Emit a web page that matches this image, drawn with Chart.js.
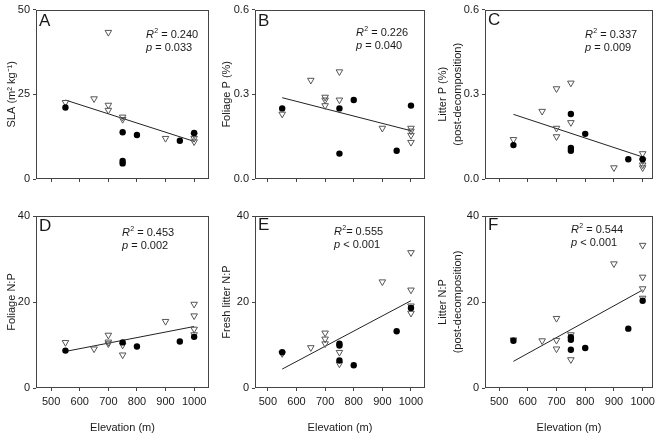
<!DOCTYPE html>
<html>
<head>
<meta charset="utf-8">
<script src="https://cdn.jsdelivr.net/npm/chart.js@4.4.0/dist/chart.umd.min.js"></script>
<style>
  body { margin: 0; background: #fff; }
  #wrap { position: relative; width: 661px; height: 436px; overflow: hidden; }
  #wrap canvas { position: absolute; }
</style>
</head>
<body>
<div id="wrap">
  <canvas id="pA"></canvas>
  <canvas id="pB"></canvas>
  <canvas id="pC"></canvas>
  <canvas id="pD"></canvas>
  <canvas id="pE"></canvas>
  <canvas id="pF"></canvas>
</div>
<script>
// Elevation ticks and fitted-line ends
const xTicks = [500, 600, 700, 800, 900, 1000];
const fitX = [550, 1000];

// A: SLA (m2 kg-1)
const slaDotX = [550, 750, 750, 750, 800, 950, 1000];
const slaDotY = [21.1, 13.8, 5.3, 4.6, 13.0, 11.3, 13.6];
const slaTriX = [550, 650, 700, 700, 700, 750, 750, 900, 1000, 1000, 1000];
const slaTriY = [22.6, 23.7, 43.3, 21.8, 20.3, 18.3, 17.6, 12.0, 13.0, 12.0, 11.0];
const slaFit = [23.3, 11.1];

// B: Foliage P (%)
const folPDotX = [550, 750, 750, 800, 950, 1000];
const folPDotY = [0.25, 0.25, 0.09, 0.28, 0.10, 0.26];
const folPTriX = [550, 650, 700, 700, 700, 750, 750, 900, 1000, 1000, 1000, 1000];
const folPTriY = [0.23, 0.35, 0.29, 0.28, 0.26, 0.38, 0.28, 0.18, 0.18, 0.17, 0.155, 0.13];
const folPFit = [0.288, 0.171];

// C: Litter P (%) post-decomposition
const litPDotX = [550, 750, 750, 750, 800, 950, 1000];
const litPDotY = [0.12, 0.23, 0.11, 0.10, 0.16, 0.07, 0.07];
const litPTriX = [550, 650, 700, 700, 700, 750, 750, 900, 1000, 1000, 1000, 1000];
const litPTriY = [0.14, 0.24, 0.32, 0.18, 0.15, 0.34, 0.20, 0.04, 0.09, 0.065, 0.05, 0.04];
const litPFit = [0.229, 0.078];

// D: Foliage N:P
const folNPDotX = [550, 750, 800, 950, 1000];
const folNPDotY = [8.7, 10.6, 9.65, 10.8, 11.9];
const folNPTriX = [550, 650, 700, 700, 700, 750, 750, 900, 1000, 1000, 1000, 1000];
const folNPTriY = [10.6, 9.1, 12.3, 10.7, 10.3, 10.0, 7.7, 15.5, 19.5, 16.8, 13.7, 12.4];
const folNPFit = [8.5, 14.3];

// E: Fresh litter N:P
const freshNPDotX = [550, 750, 750, 750, 800, 950, 1000];
const freshNPDotY = [8.3, 10.3, 9.9, 6.4, 5.3, 13.2, 18.6];
const freshNPTriX = [550, 650, 700, 700, 700, 750, 750, 900, 1000, 1000, 1000, 1000];
const freshNPTriY = [8.0, 9.4, 12.8, 11.4, 10.3, 8.3, 5.6, 24.7, 31.5, 22.8, 19.1, 17.4];
const freshNPFit = [4.4, 20.3];

// F: Litter N:P post-decomposition
const litNPDotX = [550, 750, 750, 750, 800, 950, 1000];
const litNPDotY = [11.0, 11.8, 11.2, 8.9, 9.3, 13.8, 20.3];
const litNPTriX = [550, 650, 700, 700, 700, 750, 750, 900, 1000, 1000, 1000, 1000];
const litNPTriY = [11.2, 11.0, 16.2, 11.1, 9.1, 12.4, 6.6, 28.9, 33.2, 25.8, 23.1, 20.9];
const litNPFit = [6.2, 22.8];

// y ticks
const slaTicks = [0, 25, 50];
const pTicks = [0, 0.3, 0.6];
const npTicks = [0, 20, 40];

// panel text
const panelLetters = ['A', 'B', 'C', 'D', 'E', 'F'];
const r2Text = [' = 0.240', ' = 0.226', ' = 0.337', ' = 0.453', '= 0.555', ' = 0.544'];
const pText = [' = 0.033', ' = 0.040', ' = 0.009', ' = 0.002', ' < 0.001', ' < 0.001'];

const fontFamily = 'Arial, "Liberation Sans", sans-serif';
const frameColor = '#444';
const textColor = '#1a1a1a';

function toPts(xs, ys) {
  return xs.map((x, i) => ({ x: x, y: ys[i] }));
}

// frame round the plot box + letter + R2/p lines
const panelDecor = {
  id: 'panelDecor',
  afterDatasetsDraw(chart, args, opts) {
    const ctx = chart.ctx;
    const a = chart.chartArea;
    ctx.save();
    ctx.strokeStyle = frameColor;
    ctx.lineWidth = 1;
    const x0 = Math.round(a.left) + 0.5, y0 = Math.round(a.top) + 0.5;
    const x1 = Math.round(a.right) - 0.5, y1 = Math.round(a.bottom) - 0.5;
    ctx.strokeRect(x0, y0, x1 - x0, y1 - y0);

    ctx.fillStyle = textColor;
    ctx.textBaseline = 'middle';
    ctx.textAlign = 'left';
    ctx.font = '17px ' + fontFamily;
    ctx.fillText(opts.letter, a.left + 3, a.top + opts.ly);

    let x = a.left + opts.tx;
    let y = a.top + opts.ty;
    ctx.font = 'italic 11px ' + fontFamily;
    ctx.fillText('R', x, y);
    x += ctx.measureText('R').width;
    ctx.font = '7px ' + fontFamily;
    ctx.fillText('2', x + 0.3, y - 4);
    x += ctx.measureText('2').width + 0.3;
    ctx.font = '11px ' + fontFamily;
    ctx.fillText(opts.r2, x, y);

    x = a.left + opts.tx;
    y += 13;
    ctx.font = 'italic 11px ' + fontFamily;
    ctx.fillText('p', x, y);
    x += ctx.measureText('p').width;
    ctx.font = '11px ' + fontFamily;
    ctx.fillText(opts.p, x, y);
    ctx.restore();
  }
};

function makePanel(cfg) {
  const canvas = document.getElementById(cfg.id);
  canvas.width = cfg.w;
  canvas.height = cfg.h;
  canvas.style.left = cfg.left + 'px';
  canvas.style.top = cfg.top + 'px';

  const tickFont = { family: fontFamily, size: 11 };
  const titleFont = { family: fontFamily, size: 11, lineHeight: '15px' };

  new Chart(canvas, {
    type: 'scatter',
    data: {
      datasets: [
        {
          data: toPts(cfg.dotX, cfg.dotY),
          pointStyle: 'circle',
          pointRadius: 3.2,
          backgroundColor: '#000',
          borderColor: '#000',
          borderWidth: 0,
          order: 1
        },
        {
          data: toPts(cfg.triX, cfg.triY),
          pointStyle: 'triangle',
          rotation: 180,
          pointRadius: 3.8,
          backgroundColor: 'rgba(255,255,255,0)',
          borderColor: '#555',
          borderWidth: 1,
          order: 2
        },
        {
          data: toPts(fitX, cfg.fit),
          showLine: true,
          pointRadius: 0,
          borderColor: '#222',
          borderWidth: 1,
          order: 3
        }
      ]
    },
    options: {
      responsive: false,
      animation: false,
      devicePixelRatio: 1,
      layout: { padding: { top: cfg.padT, right: cfg.padR, left: 0, bottom: 0 } },
      plugins: {
        legend: { display: false },
        tooltip: { enabled: false },
        panelDecor: cfg.decor
      },
      scales: {
        x: {
          type: 'linear',
          min: cfg.xMin,
          max: cfg.xMax,
          afterBuildTicks: s => { s.ticks = xTicks.map(v => ({ value: v })); },
          afterFit: s => { s.height = cfg.xH; },
          grid: { drawOnChartArea: false, drawTicks: true, tickLength: 3, color: frameColor },
          border: { display: false },
          ticks: {
            display: cfg.showX,
            font: tickFont,
            color: textColor,
            padding: 4,
            maxRotation: 0,
            autoSkip: false,
            callback: v => String(v)
          },
          title: {
            display: cfg.showX,
            text: 'Elevation (m)',
            font: titleFont,
            color: textColor,
            padding: { top: 0, bottom: 1 }
          }
        },
        y: {
          type: 'linear',
          min: cfg.yTicks[0],
          max: cfg.yTicks[cfg.yTicks.length - 1],
          afterBuildTicks: s => { s.ticks = cfg.yTicks.map(v => ({ value: v })); },
          afterFit: s => { s.width = cfg.yW; },
          grid: { drawOnChartArea: false, drawTicks: true, tickLength: 3, color: frameColor },
          border: { display: false },
          ticks: {
            font: tickFont,
            color: textColor,
            padding: 3,
            callback: v => v.toFixed(cfg.dec)
          },
          title: {
            display: true,
            text: cfg.yTitle,
            font: titleFont,
            color: textColor,
            padding: { top: cfg.titlePad, bottom: 0 }
          }
        }
      }
    },
    plugins: [panelDecor]
  });
}

const row1 = { top: 0, h: 200, padT: 6, xH: 21, showX: false };
const row2 = { top: 200, h: 236, padT: 16, xH: 48, showX: true };
const col1 = { left: 0, w: 215, yW: 36, padR: 6, xMin: 447, xMax: 1052, titlePad: 4.5 };
const col2 = { left: 215, w: 217, yW: 40, padR: 7, xMin: 455, xMax: 1049, titlePad: 4.5 };
const col3 = { left: 432, w: 229, yW: 53, padR: 8, xMin: 451, xMax: 1036, titlePad: 3.5 };

makePanel(Object.assign({}, row1, col1, {
  id: 'pA', dotX: slaDotX, dotY: slaDotY, triX: slaTriX, triY: slaTriY, fit: slaFit,
  yTicks: slaTicks, dec: 0, yTitle: 'SLA (m\u00B2 kg\u207B\u00B9)',
  decor: { letter: panelLetters[0], r2: r2Text[0], p: pText[0], ly: 12, tx: 110, ty: 25 }
}));
makePanel(Object.assign({}, row1, col2, {
  id: 'pB', dotX: folPDotX, dotY: folPDotY, triX: folPTriX, triY: folPTriY, fit: folPFit,
  yTicks: pTicks, dec: 1, yTitle: 'Foliage P (%)',
  decor: { letter: panelLetters[1], r2: r2Text[1], p: pText[1], ly: 12, tx: 101, ty: 23 }
}));
makePanel(Object.assign({}, row1, col3, {
  id: 'pC', dotX: litPDotX, dotY: litPDotY, triX: litPTriX, triY: litPTriY, fit: litPFit,
  yTicks: pTicks, dec: 1, yTitle: ['Litter P (%)', '(post-decomposition)'],
  decor: { letter: panelLetters[2], r2: r2Text[2], p: pText[2], ly: 11, tx: 100, ty: 25.5 }
}));
makePanel(Object.assign({}, row2, col1, {
  id: 'pD', dotX: folNPDotX, dotY: folNPDotY, triX: folNPTriX, triY: folNPTriY, fit: folNPFit,
  yTicks: npTicks, dec: 0, yTitle: 'Foliage N:P',
  decor: { letter: panelLetters[3], r2: r2Text[3], p: pText[3], ly: 10.5, tx: 86, ty: 17 }
}));
makePanel(Object.assign({}, row2, col2, {
  id: 'pE', dotX: freshNPDotX, dotY: freshNPDotY, triX: freshNPTriX, triY: freshNPTriY, fit: freshNPFit,
  yTicks: npTicks, dec: 0, yTitle: 'Fresh litter N:P',
  decor: { letter: panelLetters[4], r2: r2Text[4], p: pText[4], ly: 9.5, tx: 79, ty: 16 }
}));
makePanel(Object.assign({}, row2, col3, {
  id: 'pF', dotX: litNPDotX, dotY: litNPDotY, triX: litNPTriX, triY: litNPTriY, fit: litNPFit,
  yTicks: npTicks, dec: 0, yTitle: ['Litter N:P', '(post-decomposition)'],
  decor: { letter: panelLetters[5], r2: r2Text[5], p: pText[5], ly: 9.5, tx: 86, ty: 14 }
}));
</script>
</body>
</html>
